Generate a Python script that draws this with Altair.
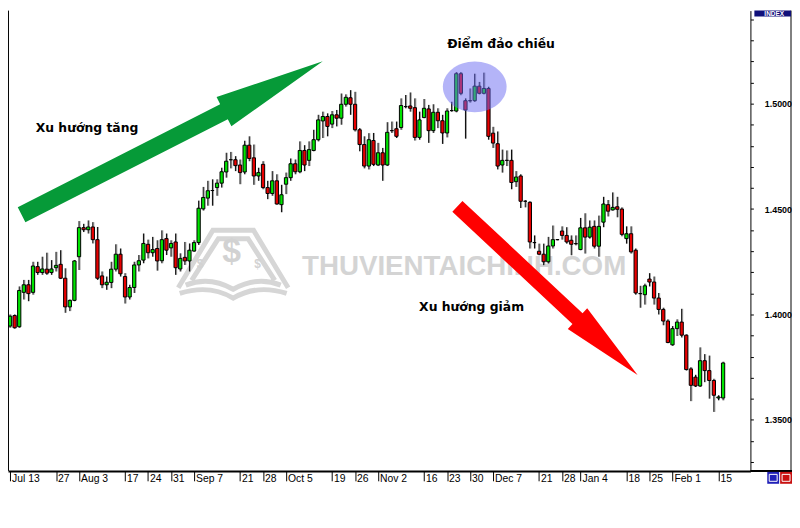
import altair as alt
import pandas as pd

# ---- daily candles (EUR/USD, Jul 2009 - Feb 2010) ----
opens = [1.3945, 1.3995, 1.3942, 1.4105, 1.4141, 1.4105, 1.4227, 1.4199, 1.4215, 1.4199,
         1.4222, 1.4238, 1.4172, 1.4036, 1.4067, 1.4274, 1.4412, 1.4402, 1.4415, 1.4355,
         1.4183, 1.4141, 1.4152, 1.4215, 1.4286, 1.4180, 1.4083, 1.4128, 1.4235, 1.4258,
         1.4333, 1.4293, 1.4313, 1.4255, 1.4360, 1.4316, 1.4344, 1.4216, 1.4271, 1.4254,
         1.4301, 1.4341, 1.4501, 1.4552, 1.4588, 1.4602, 1.4623, 1.4676, 1.4734, 1.4734,
         1.4709, 1.4676, 1.4803, 1.4743, 1.4657, 1.4712, 1.4602, 1.4574, 1.4634, 1.4521,
         1.4618, 1.4649, 1.4715, 1.4677, 1.4778, 1.4731, 1.4778, 1.4829, 1.4918, 1.4939,
         1.4903, 1.4947, 1.4931, 1.4997, 1.5028, 1.4997, 1.4876, 1.4806, 1.4704, 1.4825,
         1.4709, 1.4767, 1.4709, 1.4872, 1.4881, 1.4887, 1.4986, 1.4989, 1.4981, 1.4840,
         1.4934, 1.4975, 1.4872, 1.4959, 1.4919, 1.4861, 1.4967, 1.4965, 1.5142, 1.5014,
         1.5014, 1.5014, 1.5083, 1.5049, 1.5072, 1.4860, 1.4810, 1.4709, 1.4731, 1.4731,
         1.4630, 1.4657, 1.4537, 1.4532, 1.4341, 1.4300, 1.4286, 1.4250, 1.4325, 1.4355,
         1.4396, 1.4375, 1.4352, 1.4336, 1.4308, 1.4411, 1.4367, 1.4418, 1.4324, 1.4438,
         1.4521, 1.4496, 1.4511, 1.4500, 1.4360, 1.4383, 1.4305, 1.4099, 1.4094, 1.4168,
         1.4154, 1.4078, 1.4024, 1.3969, 1.3856, 1.3933, 1.3964, 1.3902, 1.3742, 1.3703,
         1.3661, 1.3781, 1.3734, 1.3687, 1.3604, 1.3604]
highs = [1.4000, 1.4000, 1.4133, 1.4164, 1.4164, 1.4250, 1.4250, 1.4274, 1.4293, 1.4258,
         1.4297, 1.4305, 1.4219, 1.4071, 1.4258, 1.4443, 1.4430, 1.4446, 1.4438, 1.4415,
         1.4204, 1.4180, 1.4250, 1.4333, 1.4313, 1.4196, 1.4141, 1.4250, 1.4282, 1.4384,
         1.4355, 1.4368, 1.4352, 1.4399, 1.4384, 1.4352, 1.4384, 1.4290, 1.4344, 1.4337,
         1.4352, 1.4540, 1.4605, 1.4634, 1.4641, 1.4641, 1.4696, 1.4767, 1.4771, 1.4751,
         1.4735, 1.4824, 1.4845, 1.4806, 1.4696, 1.4727, 1.4634, 1.4680, 1.4665, 1.4615,
         1.4673, 1.4740, 1.4735, 1.4821, 1.4803, 1.4821, 1.4876, 1.4947, 1.4962, 1.4954,
         1.4965, 1.4970, 1.5048, 1.5044, 1.5064, 1.5056, 1.4884, 1.4845, 1.4860, 1.4861,
         1.4814, 1.4790, 1.4912, 1.4915, 1.4915, 1.5025, 1.5041, 1.5053, 1.5025, 1.4962,
         1.5022, 1.4994, 1.4997, 1.4978, 1.4947, 1.4978, 1.5009, 1.5150, 1.5150, 1.5025,
         1.5072, 1.5142, 1.5103, 1.5147, 1.5080, 1.4890, 1.4868, 1.4782, 1.4778, 1.4782,
         1.4680, 1.4665, 1.4543, 1.4537, 1.4375, 1.4336, 1.4336, 1.4368, 1.4422, 1.4358,
         1.4418, 1.4414, 1.4375, 1.4375, 1.4458, 1.4480, 1.4446, 1.4446, 1.4469, 1.4558,
         1.4543, 1.4579, 1.4558, 1.4508, 1.4418, 1.4418, 1.4313, 1.4136, 1.4146, 1.4196,
         1.4180, 1.4102, 1.4032, 1.3977, 1.3945, 1.3977, 1.4027, 1.3906, 1.3750, 1.3714,
         1.3844, 1.3812, 1.3805, 1.3695, 1.3617, 1.3776]
lows = [1.3937, 1.3933, 1.3937, 1.4071, 1.4063, 1.4094, 1.4188, 1.4188, 1.4188, 1.4188,
        1.4204, 1.4168, 1.4008, 1.4016, 1.4063, 1.4211, 1.4391, 1.4384, 1.4337, 1.4164,
        1.4125, 1.4117, 1.4125, 1.4204, 1.4180, 1.4052, 1.4071, 1.4102, 1.4204, 1.4243,
        1.4266, 1.4274, 1.4208, 1.4243, 1.4282, 1.4274, 1.4188, 1.4204, 1.4235, 1.4204,
        1.4297, 1.4330, 1.4493, 1.4516, 1.4516, 1.4563, 1.4602, 1.4649, 1.4693, 1.4680,
        1.4618, 1.4665, 1.4727, 1.4615, 1.4634, 1.4594, 1.4547, 1.4563, 1.4521, 1.4485,
        1.4571, 1.4634, 1.4665, 1.4670, 1.4680, 1.4704, 1.4774, 1.4821, 1.4837, 1.4845,
        1.4884, 1.4892, 1.4900, 1.4986, 1.4947, 1.4868, 1.4774, 1.4693, 1.4688, 1.4704,
        1.4704, 1.4634, 1.4704, 1.4861, 1.4837, 1.4876, 1.4978, 1.4962, 1.4825, 1.4829,
        1.4931, 1.4814, 1.4861, 1.4884, 1.4809, 1.4840, 1.4962, 1.4959, 1.5040, 1.4834,
        1.5005, 1.5009, 1.5044, 1.5044, 1.4829, 1.4790, 1.4688, 1.4673, 1.4704, 1.4594,
        1.4605, 1.4505, 1.4508, 1.4313, 1.4313, 1.4281, 1.4234, 1.4242, 1.4313, 1.4352,
        1.4355, 1.4336, 1.4281, 1.4328, 1.4305, 1.4289, 1.4360, 1.4313, 1.4274, 1.4414,
        1.4465, 1.4493, 1.4461, 1.4371, 1.4336, 1.4289, 1.4094, 1.4032, 1.4047, 1.4133,
        1.4047, 1.4000, 1.3949, 1.3864, 1.3852, 1.3898, 1.3891, 1.3734, 1.3589, 1.3656,
        1.3656, 1.3679, 1.3601, 1.3538, 1.3593, 1.3593]
closes = [1.3992, 1.3937, 1.4114, 1.4141, 1.4099, 1.4230, 1.4199, 1.4216, 1.4196, 1.4216,
          1.4233, 1.4172, 1.4036, 1.4067, 1.4254, 1.4412, 1.4402, 1.4415, 1.4355, 1.4172,
          1.4141, 1.4153, 1.4215, 1.4286, 1.4193, 1.4083, 1.4128, 1.4235, 1.4255, 1.4337,
          1.4293, 1.4308, 1.4254, 1.4355, 1.4305, 1.4337, 1.4222, 1.4266, 1.4254, 1.4305,
          1.4341, 1.4504, 1.4555, 1.4587, 1.4588, 1.4623, 1.4677, 1.4727, 1.4734, 1.4706,
          1.4673, 1.4803, 1.4740, 1.4657, 1.4673, 1.4602, 1.4574, 1.4634, 1.4524, 1.4568,
          1.4649, 1.4715, 1.4677, 1.4778, 1.4709, 1.4782, 1.4829, 1.4923, 1.4939, 1.4892,
          1.4947, 1.4931, 1.4997, 1.5030, 1.4997, 1.4876, 1.4806, 1.4704, 1.4829, 1.4712,
          1.4767, 1.4709, 1.4864, 1.4872, 1.4845, 1.4991, 1.4986, 1.4978, 1.4840, 1.4923,
          1.4978, 1.4872, 1.4959, 1.4919, 1.4861, 1.4965, 1.4967, 1.5142, 1.5049, 1.4970,
          1.5014, 1.5083, 1.5049, 1.5072, 1.4845, 1.4813, 1.4704, 1.4731, 1.4731, 1.4626,
          1.4652, 1.4537, 1.4537, 1.4344, 1.4341, 1.4286, 1.4250, 1.4325, 1.4355, 1.4355,
          1.4375, 1.4344, 1.4333, 1.4336, 1.4411, 1.4367, 1.4414, 1.4324, 1.4418, 1.4524,
          1.4490, 1.4508, 1.4499, 1.4380, 1.4383, 1.4297, 1.4102, 1.4099, 1.4136, 1.4154,
          1.4078, 1.4024, 1.3969, 1.3867, 1.3933, 1.3964, 1.3902, 1.3739, 1.3664, 1.3661,
          1.3781, 1.3734, 1.3687, 1.3617, 1.3609, 1.3770]

# x-axis: bar number of each labelled week and its label
tick_index = [0, 10, 15, 25, 30, 35, 40, 50, 55, 60, 70, 75, 80, 90, 95, 100,
              105, 115, 120, 124, 134, 139, 144, 154]
tick_text = ["Jul 13", "27", "Aug 3", "17", "24", "31", "Sep 7", "21", "28", "Oct 5",
             "19", "26", "Nov 2", "16", "23", "30", "Dec 7", "21", "28", "Jan 4",
             "18", "25", "Feb 1", "15"]
price_ticks = [1.33, 1.34, 1.35, 1.36, 1.37, 1.38, 1.39, 1.40, 1.41, 1.42, 1.43,
               1.44, 1.45, 1.46, 1.47, 1.48, 1.49, 1.50, 1.51, 1.52, 1.53, 1.54]

# annotation texts
label_up = "Xu hướng tăng"
label_down = "Xu hướng giảm"
label_turn = "Điểm đảo chiều"
watermark = "THUVIENTAICHINH.COM"

n = len(opens)
df = pd.DataFrame({"i": list(range(n)), "open": opens, "high": highs,
                   "low": lows, "close": closes})
df["dir"] = ["up" if c > o else ("down" if c < o else "flat")
             for o, c in zip(opens, closes)]
one = pd.DataFrame({"a": [0]})

W, H = 750, 465
xscale = alt.Scale(domain=[0.637, 159.87], nice=False, zero=False)
yscale = alt.Scale(domain=[1.32582, 1.54413], nice=False, zero=False)

label_expr = " : ".join(f"datum.value == {k} ? '{t}'" for k, t in zip(tick_index, tick_text)) + " : ''"

xaxis = alt.Axis(values=tick_index, labelExpr=label_expr, tickSize=10, tickColor="black",
                 domainColor="black", domainWidth=2, labelAlign="left", labelBaseline="top",
                 labelPadding=-7, labelOffset=1.5, labelFont="Liberation Sans", labelFontSize=10.5,
                 labelColor="black", grid=False, title=None, labelOverlap=False,
                 labelFlush=False, labelBound=False)
yaxis = alt.Axis(orient="right", values=price_ticks,
                 labelExpr="abs(datum.value*20 - round(datum.value*20)) < 0.001 ? format(datum.value, '.4f') : ''",
                 tickSize=3, tickColor="black", domainColor="black", domainWidth=1,
                 labelPadding=11, labelFont="Liberation Sans", labelFontSize=9,
                 labelFontWeight="bold", labelColor="black", grid=False, title=None,
                 labelOverlap=False, labelFlush=False, labelBound=False)

base = alt.Chart(df)
X = alt.X("i:Q", scale=xscale, axis=xaxis)

wick_shadow = base.mark_rule(color="#9a9a9a", strokeWidth=1, xOffset=1, clip=True).encode(
    x=X, y=alt.Y("low:Q", scale=yscale, axis=yaxis), y2="high:Q")
wick = base.mark_rule(color="black", strokeWidth=1, clip=True).encode(
    x=X, y=alt.Y("low:Q", scale=yscale, axis=yaxis), y2="high:Q")
body = base.mark_bar(width=3.3, stroke="black", strokeWidth=1, clip=True).encode(
    x=X,
    y=alt.Y("open:Q", scale=yscale, axis=yaxis),
    y2="close:Q",
    color=alt.Color("dir:N", scale=alt.Scale(domain=["up", "down", "flat"],
                                             range=["#00e400", "#e80000", "#000000"]),
                    legend=None))

# ---- watermark ----
logo_path = ("M -0.925 0.425 L -0.342 -0.542 L 0.342 -0.542 L 0.925 0.425 "
             "M -0.70 0.30 L -0.25 -0.40 L 0.25 -0.40 L 0.70 0.30 "
             "M -0.80 0.38 Q -0.40 0.22 0 0.45 Q 0.40 0.22 0.80 0.38 "
             "M -0.90 0.52 Q -0.40 0.36 0 0.60 Q 0.40 0.36 0.90 0.52")
wm_logo = alt.Chart(one).mark_point(shape=logo_path, size=120 * 120, filled=False,
                                    stroke="#d6d6d6", strokeWidth=5, opacity=1).encode(
    x=alt.value(227.5), y=alt.value(254.5))
wm_dollar = alt.Chart(one).mark_text(text="$", font="Liberation Sans", fontSize=34,
                                     fontWeight="bold", color="#d2d2d2").encode(
    x=alt.value(226), y=alt.value(244))
wm_small_l = alt.Chart(one).mark_text(text="$", font="Liberation Sans", fontSize=12,
                                      fontWeight="bold", color="#d2d2d2").encode(
    x=alt.value(194), y=alt.value(256))
wm_small_r = alt.Chart(one).mark_text(text="$", font="Liberation Sans", fontSize=12,
                                      fontWeight="bold", color="#d2d2d2").encode(
    x=alt.value(252), y=alt.value(256))
wm_text = alt.Chart(one).mark_text(text=watermark, font="Liberation Sans", fontSize=28,
                                   fontWeight="bold", color="#d4d4d4", align="left",
                                   baseline="alphabetic").encode(
    x=alt.value(297), y=alt.value(267))

# ---- arrows ----
green_path = ("M -1 -0.0498 L 0.344 -0.0498 L 0.344 -0.0966 L 1 0 L 0.344 0.0966 "
              "L 0.344 0.0498 L -1 0.0498 Z")
green_arrow = alt.Chart(one).mark_point(shape=green_path, size=341.5 ** 2, filled=True,
                                        fill="#069a38", strokeWidth=0, opacity=1,
                                        angle=333.0).encode(
    x=alt.value(165.85), y=alt.value(128.75))
red_path = ("M -1 -0.06 L 0.333 -0.06 L 0.333 -0.115 L 1 0 L 0.333 0.115 "
            "L 0.333 0.06 L -1 0.06 Z")
red_arrow = alt.Chart(one).mark_point(shape=red_path, size=249.3 ** 2, filled=True,
                                      fill="#ff0000", strokeWidth=0, opacity=1,
                                      angle=43.1).encode(
    x=alt.value(545), y=alt.value(282.85))

# ---- reversal ellipse ----
ellipse_path = "M -1 0 A 1 0.798 0 1 0 1 0 A 1 0.798 0 1 0 -1 0 Z"
ellipse = alt.Chart(one).mark_point(shape=ellipse_path, size=64.4 ** 2, filled=True,
                                    fill="#6a6af2", opacity=0.5, strokeWidth=0).encode(
    x=alt.value(471.5), y=alt.value(77))

# ---- texts ----
def label(txt, x, y):
    return alt.Chart(one).mark_text(text=txt, font="DejaVu Sans", fontSize=12.5,
                                    fontWeight="bold", color="black", align="left",
                                    baseline="alphabetic").encode(
        x=alt.value(x), y=alt.value(y))

t_up = label(label_up, 28, 122.5)
t_turn = label(label_turn, 443.7, 37.3)
t_down = label(label_down, 415.3, 303.7)

# ---- frame / panel decorations ----
left_line = alt.Chart(one).mark_rule(color="black", strokeWidth=1).encode(
    x=alt.value(0.5), y=alt.value(0), y2=alt.value(H))
panel_right = alt.Chart(one).mark_rule(color="black", strokeWidth=1).encode(
    x=alt.value(791), y=alt.value(0), y2=alt.value(H))
panel_bottom = alt.Chart(one).mark_rule(color="black", strokeWidth=2).encode(
    x=alt.value(W), x2=alt.value(792), y=alt.value(H))
index_box = alt.Chart(one).mark_rect(color="#10107a").encode(
    x=alt.value(754), x2=alt.value(791), y=alt.value(0), y2=alt.value(6))
index_text = alt.Chart(one).mark_text(text="INDEX", font="Liberation Sans", fontSize=6.5,
                                      fontWeight="bold", color="white").encode(
    x=alt.value(774), y=alt.value(3.2))
icon_blue = alt.Chart(one).mark_rect(color="#2020b8").encode(
    x=alt.value(767), x2=alt.value(779), y=alt.value(466), y2=alt.value(478))
icon_red = alt.Chart(one).mark_rect(color="#c81010").encode(
    x=alt.value(780), x2=alt.value(792), y=alt.value(466), y2=alt.value(478))
icon_blue_in = alt.Chart(one).mark_rect(fill="transparent", stroke="white", strokeWidth=1).encode(
    x=alt.value(769), x2=alt.value(777), y=alt.value(468.5), y2=alt.value(475.5))
icon_red_in = alt.Chart(one).mark_rect(fill="transparent", stroke="white", strokeWidth=1).encode(
    x=alt.value(782), x2=alt.value(790), y=alt.value(468.5), y2=alt.value(475.5))

chart = alt.layer(
    wm_logo, wm_dollar, wm_small_l, wm_small_r, wm_text,
    wick_shadow, wick, body,
    green_arrow, red_arrow, ellipse,
    t_up, t_turn, t_down,
    left_line, panel_right, panel_bottom, index_box, index_text,
    icon_blue, icon_red, icon_blue_in, icon_red_in,
).properties(
    width=W, height=H,
    autosize=alt.AutoSizeParams(type="none"),
    padding={"left": 0, "top": 0, "right": 42, "bottom": 50},
    background="white",
).configure_view(stroke=None)

chart.save("out.html", embed_options={"renderer": "svg", "actions": False})
